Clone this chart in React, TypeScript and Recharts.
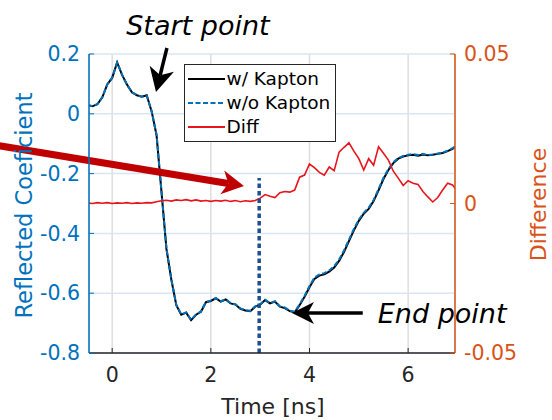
import React from 'react';
import { ComposedChart, Line, XAxis, YAxis, CartesianGrid, ReferenceLine, Legend } from 'recharts';

// time axis [ns]
const time = [
  -0.5, -0.4, -0.3, -0.2, -0.1, 0.0, 0.1, 0.2, 0.3, 0.4,
  0.5, 0.6, 0.7, 0.8, 0.9, 1.0, 1.1, 1.2, 1.3, 1.4,
  1.5, 1.6, 1.7, 1.8, 1.9, 2.0, 2.1, 2.2, 2.3, 2.4,
  2.5, 2.6, 2.7, 2.8, 2.9, 3.0, 3.1, 3.2, 3.3, 3.4,
  3.5, 3.6, 3.7, 3.8, 3.9, 4.0, 4.1, 4.2, 4.3, 4.4,
  4.5, 4.6, 4.7, 4.8, 4.9, 5.0, 5.1, 5.2, 5.3, 5.4,
  5.5, 5.6, 5.7, 5.8, 5.9, 6.0, 6.1, 6.2, 6.3, 6.4,
  6.5, 6.6, 6.7, 6.8, 6.9, 7.0,
];

const withKapton = [
  0.029, 0.025, 0.032, 0.055, 0.098, 0.12, 0.172, 0.13, 0.098, 0.072,
  0.062, 0.057, 0.062, 0.008, -0.072, -0.262, -0.452, -0.555, -0.64, -0.672,
  -0.665, -0.69, -0.672, -0.662, -0.63, -0.626, -0.617, -0.628, -0.621, -0.634,
  -0.638, -0.652, -0.658, -0.66, -0.645, -0.638, -0.623, -0.634, -0.628, -0.645,
  -0.65, -0.66, -0.664, -0.64, -0.612, -0.58, -0.552, -0.541, -0.537, -0.528,
  -0.514, -0.492, -0.462, -0.426, -0.39, -0.358, -0.334, -0.318, -0.292, -0.256,
  -0.218, -0.188, -0.165, -0.15, -0.143, -0.139, -0.137, -0.14, -0.136, -0.139,
  -0.137, -0.134, -0.131, -0.125, -0.117, -0.106,
];

const withoutKapton = [
  0.029, 0.026, 0.032, 0.056, 0.098, 0.121, 0.171, 0.131, 0.097, 0.072,
  0.063, 0.057, 0.061, 0.009, -0.07, -0.26, -0.45, -0.554, -0.639, -0.671,
  -0.664, -0.689, -0.671, -0.661, -0.629, -0.625, -0.616, -0.627, -0.62, -0.633,
  -0.637, -0.651, -0.657, -0.659, -0.644, -0.637, -0.622, -0.633, -0.627, -0.644,
  -0.648, -0.658, -0.662, -0.637, -0.609, -0.576, -0.548, -0.537, -0.533, -0.524,
  -0.51, -0.487, -0.457, -0.421, -0.385, -0.354, -0.331, -0.314, -0.288, -0.252,
  -0.214, -0.185, -0.162, -0.148, -0.141, -0.137, -0.135, -0.138, -0.134, -0.138,
  -0.136, -0.133, -0.13, -0.123, -0.115, -0.105,
];

const diff = [
  0.0002, 0.0, 0.0003, 0.0001, 0.0003, 0.0, 0.0002, 0.0001, 0.0003, 0.0,
  0.0002, 0.0001, 0.0003, 0.0002, 0.0006, 0.0009, 0.0011, 0.0008, 0.0012, 0.001,
  0.0013, 0.0009, 0.0012, 0.0008, 0.001, 0.0007, 0.001, 0.0008, 0.0011, 0.0007,
  0.001, 0.0006, 0.0009, 0.0007, 0.001, 0.0018, 0.003, 0.0024, 0.002, 0.0036,
  0.004, 0.0038, 0.0045, 0.0088, 0.0095, 0.0132, 0.012, 0.0104, 0.0095, 0.0122,
  0.011, 0.0172, 0.0188, 0.0203, 0.0175, 0.015, 0.0112, 0.015, 0.0128, 0.019,
  0.0168, 0.0145, 0.0108, 0.0085, 0.006, 0.0076, 0.0068, 0.0064, 0.004, 0.0022,
  0.0005, 0.002, 0.0045, 0.0068, 0.0062, 0.004,
];

const seriesOrder = ['w/ Kapton', 'w/o Kapton', 'Diff'];

const xTicks = [0, 2, 4, 6];
const leftTicks = [-0.8, -0.6, -0.4, -0.2, 0, 0.2];
const rightTicks = [-0.05, 0, 0.05];

// dotted marker at the analysis start
const markerTime = 2.98;
const markerTop = -0.215;

// annotation arrows, in data units (tail -> tip)
const startArrow = [{ x: 1.11, y: 0.22 }, { x: 0.888, y: 0.073 }];
const endArrow = [{ x: 5.08, y: -0.666 }, { x: 3.645, y: -0.666 }];
const redArrow = [{ x: -2.4, y: -0.104 }, { x: 2.672, y: -0.2415 }];

const data = time.map((t, i) => ({
  t,
  wk: withKapton[i],
  wok: withoutKapton[i],
  diff: diff[i],
}));

const FONT = '"DejaVu Sans", sans-serif';
const BLUE = '#0072BD';
const ORANGE = '#D95319';
const AXIS = '#262626';

type ArrowOpts = {
  color: string;
  width: number;
  headLength: number;
  headWidth: number;
  text?: string;
  textDx?: number;
  textDy?: number;
  anchor?: 'start' | 'middle' | 'end';
};

const makeArrow = (o: ArrowOpts) => (props: any) => {
  const { x1, y1, x2, y2 } = props;
  const len = Math.hypot(x2 - x1, y2 - y1) || 1;
  const ux = (x2 - x1) / len;
  const uy = (y2 - y1) / len;
  const px = -uy;
  const py = ux;
  const bx = x2 - ux * o.headLength;
  const by = y2 - uy * o.headLength;
  const nx = x2 - ux * o.headLength * 0.72;
  const ny = y2 - uy * o.headLength * 0.72;
  const hw = o.headWidth / 2;
  const pts = [
    `${x2},${y2}`,
    `${bx + px * hw},${by + py * hw}`,
    `${nx},${ny}`,
    `${bx - px * hw},${by - py * hw}`,
  ].join(' ');
  return (
    <g>
      <line x1={x1} y1={y1} x2={nx} y2={ny} stroke={o.color} strokeWidth={o.width} />
      <polygon points={pts} fill={o.color} />
      {o.text && (
        <text
          x={x1 + (o.textDx || 0)}
          y={y1 + (o.textDy || 0)}
          textAnchor={o.anchor || 'start'}
          fontFamily={FONT}
          fontStyle="italic"
          fontSize={27}
          fill="#000"
        >
          {o.text}
        </text>
      )}
    </g>
  );
};

const renderLegend = (props: any) => {
  const items = [...(props.payload || [])].sort(
    (a: any, b: any) => seriesOrder.indexOf(a.value) - seriesOrder.indexOf(b.value)
  );
  return (
    <div
      style={{
        boxSizing: 'border-box',
        width: 152,
        height: 78,
        border: '1.5px solid #262626',
        background: '#fff',
        padding: '2px 0 0 2.5px',
        fontFamily: FONT,
        fontSize: 18.5,
        color: '#000',
      }}
    >
      {items.map((entry: any) => (
        <div key={entry.value} style={{ display: 'flex', alignItems: 'center', height: 24 }}>
          <svg width={37} height={4} style={{ marginRight: 2 }}>
            <line
              x1={0}
              y1={2}
              x2={37}
              y2={2}
              stroke={entry.color}
              strokeWidth={2}
              strokeDasharray={entry.payload?.strokeDasharray}
            />
          </svg>
          <span style={{ lineHeight: '24px', whiteSpace: 'nowrap' }}>{entry.value}</span>
        </div>
      ))}
    </div>
  );
};

const leftTitle = (props: any) => {
  const vb = props.viewBox;
  const x = vb.x + 32;
  const y = vb.y + vb.height / 2 + 2;
  return (
    <text x={x} y={y} transform={`rotate(-90, ${x}, ${y})`} textAnchor="middle" fontFamily={FONT} fontSize={22.5} fill={BLUE}>
      Reflected Coeficient
    </text>
  );
};

const rightTitle = (props: any) => {
  const vb = props.viewBox;
  const x = vb.x + 91;
  const y = vb.y + vb.height / 2 + 1;
  return (
    <text x={x} y={y} transform={`rotate(-90, ${x}, ${y})`} textAnchor="middle" fontFamily={FONT} fontSize={22} fill={ORANGE}>
      Difference
    </text>
  );
};

const bottomTitle = (props: any) => {
  const vb = props.viewBox;
  return (
    <text x={vb.x + vb.width / 2 + 1} y={vb.y + 61} textAnchor="middle" fontFamily={FONT} fontSize={22} fill={AXIS}>
      Time [ns]
    </text>
  );
};

export default function App() {
  return (
    <div style={{ position: 'absolute', left: 0, top: 0, width: 552, height: 420, background: '#fff', fontFamily: FONT }}>
      <ComposedChart width={552} height={420} data={data} margin={{ top: 54, right: 0, bottom: 0, left: 0 }}>
        <CartesianGrid horizontal={false} stroke="#dedede" strokeWidth={1.5} />
        <CartesianGrid vertical={false} yAxisId="left" stroke="#d7e6f2" strokeWidth={1.5} />
        <XAxis
          dataKey="t"
          type="number"
          domain={[-0.47, 6.95]}
          allowDataOverflow
          ticks={xTicks}
          interval={0}
          height={67}
          tickSize={-5}
          tickMargin={19}
          stroke={AXIS}
          axisLine={{ stroke: AXIS, strokeWidth: 1.5 }}
          tickLine={{ stroke: AXIS }}
          tick={{ fill: AXIS, fontSize: 20.5, fontFamily: FONT }}
          label={bottomTitle}
        />
        <XAxis
          xAxisId="top"
          orientation="top"
          type="number"
          domain={[-0.47, 6.95]}
          allowDataOverflow
          ticks={xTicks}
          interval={0}
          height={0}
          tickSize={-5}
          tick={false}
          axisLine={{ stroke: AXIS, strokeWidth: 1.5 }}
          tickLine={{ stroke: AXIS }}
        />
        <YAxis
          yAxisId="left"
          domain={[-0.8, 0.2]}
          ticks={leftTicks}
          interval={0}
          width={89}
          tickSize={-5}
          tickMargin={14}
          axisLine={{ stroke: BLUE, strokeWidth: 1.5 }}
          tickLine={{ stroke: BLUE }}
          tick={{ fill: BLUE, fontSize: 20.5, fontFamily: FONT }}
          label={leftTitle}
        />
        <YAxis
          yAxisId="right"
          orientation="right"
          domain={[-0.05, 0.05]}
          ticks={rightTicks}
          interval={0}
          width={97}
          tickSize={-5}
          tickMargin={14}
          axisLine={{ stroke: ORANGE, strokeWidth: 1.5 }}
          tickLine={{ stroke: ORANGE }}
          tick={{ fill: ORANGE, fontSize: 20.5, fontFamily: FONT }}
          label={rightTitle}
        />
        <Line
          yAxisId="left"
          dataKey="wk"
          name="w/ Kapton"
          stroke="#000000"
          strokeWidth={2}
          dot={false}
          isAnimationActive={false}
        />
        <Line
          yAxisId="left"
          dataKey="wok"
          name="w/o Kapton"
          stroke={BLUE}
          strokeWidth={2}
          strokeDasharray="5 2.5"
          dot={false}
          isAnimationActive={false}
        />
        <Line
          yAxisId="right"
          dataKey="diff"
          name="Diff"
          stroke="#E8141C"
          strokeWidth={1.6}
          dot={false}
          isAnimationActive={false}
        />
        <ReferenceLine
          yAxisId="left"
          segment={[{ x: markerTime, y: -0.8 }, { x: markerTime, y: markerTop }]}
          stroke="#1f4e8f"
          strokeWidth={3.5}
          strokeDasharray="4.5 3"
        />
        <ReferenceLine
          yAxisId="left"
          segment={startArrow}
          ifOverflow="visible"
          shape={makeArrow({ color: '#000', width: 3.5, headLength: 24, headWidth: 25, text: 'Start point', textDx: 31, textDy: -13, anchor: 'middle' })}
        />
        <ReferenceLine
          yAxisId="left"
          segment={endArrow}
          ifOverflow="visible"
          shape={makeArrow({ color: '#000', width: 3.5, headLength: 22, headWidth: 22, text: 'End point', textDx: 15, textDy: 10, anchor: 'start' })}
        />
        <ReferenceLine
          yAxisId="left"
          segment={redArrow}
          ifOverflow="visible"
          shape={makeArrow({ color: '#C00000', width: 7, headLength: 22, headWidth: 24 })}
        />
        <Legend
          verticalAlign="middle"
          align="center"
          content={renderLegend}
          wrapperStyle={{ left: 184, top: 64, width: 152, height: 78 }}
        />
      </ComposedChart>
    </div>
  );
}
